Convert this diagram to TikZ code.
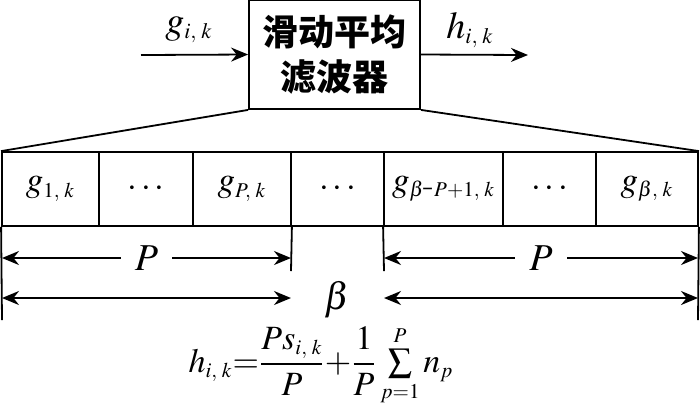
\documentclass[tikz,border=0pt]{standalone}
\usepackage{mathptmx}
\usepackage{fontspec}
\newfontfamily\cjk{Noto Sans CJK SC}
\usetikzlibrary{arrows.meta}
\DeclareMathSizes{17.5}{17.5}{10.5}{8}
\DeclareMathSizes{19}{19}{11}{8}
\DeclareMathSizes{17}{17}{10.5}{8}

\begin{document}
\begin{tikzpicture}[x=0.5pt,y=-0.5pt,line width=0.9pt,
    >={Stealth[length=8.5pt,width=7pt]},
    cell/.style={draw,minimum height=37pt,inner sep=0pt,font=\fontsize{17.5}{21}\selectfont},
    lbl/.style={font=\fontsize{19}{22}\selectfont}]
      \useasboundingbox (0,0) rectangle (700,404);

      \node[draw,minimum width=85.5pt,minimum height=54.5pt,align=center,
        font=\cjk\bfseries\fontsize{18}{22.5}\selectfont] (filter) at (334.5,54.5) {滑动平均\\滤波器};
      \coordinate (in) at (141,55);
      \coordinate (out) at (528,55);
      \node[lbl] (gin) at (189,30) {$g_{i,\;k}$};
      \node[lbl] (hout) at (470,30) {$h_{i,\;k}$};

      \draw[->] (in) to (filter.west);
      \draw[->] (filter.east) to (out);

      \node[cell,minimum width=48.5pt] (c1) at (50.5,189) {$g_{1,\;k}$};
      \node[cell,minimum width=47pt] (c2) at (146,189) {$\cdots$};
      \node[cell,minimum width=49pt] (c3) at (242,189) {$g_{P,\;k}$};
      \node[cell,minimum width=46.5pt] (c4) at (337.5,189) {$\cdots$};
      \node[cell,minimum width=59.5pt] (c5) at (443.5,189) {$g_{\beta\mbox{-}P{+}1,\;k}$};
      \node[cell,minimum width=46.5pt] (c6) at (549.5,189) {$\cdots$};
      \node[cell,minimum width=51pt] (c7) at (647,189) {$g_{\beta,\;k}$};

      \draw (filter.south west) to (c1.north west);
      \draw (filter.south east) to (c7.north east);

      \coordinate (l1) at (2,320);
      \coordinate (l2) at (291,271);
      \coordinate (l3) at (384,271);
      \coordinate (l4) at (698,320);
      \draw (c1.south west) to (l1);
      \draw (c3.south east) to (l2);
      \draw (c5.south west) to (l3);
      \draw (c7.south east) to (l4);

      \coordinate (pa) at (2,258);
      \coordinate (pb) at (291,258);
      \coordinate (pc) at (384,258);
      \coordinate (pd) at (698,258);
      \draw[<->] (pa) to node[lbl,fill=white,inner xsep=7pt]{$P$} (pb);
      \draw[<->] (pc) to node[lbl,fill=white,inner xsep=7pt]{$P$} (pd);

      \coordinate (ba) at (2,298);
      \coordinate (bb) at (291,298);
      \coordinate (bc) at (384,298);
      \coordinate (bd) at (698,298);
      \draw[<->] (ba) to (bb);
      \draw[<->] (bc) to (bd);
      \node[lbl] (beta) at (337,300) {$\beta$};

      \node[font=\fontsize{17}{20}\selectfont] (eq) at (321,366) {$h_{i,\;k}{=}{\displaystyle\frac{Ps_{i,\;k}}{P}}{+}{\displaystyle\frac{1}{P}}\sum\limits_{p=1}^{P}n_p$};
    \end{tikzpicture}
\end{document}
